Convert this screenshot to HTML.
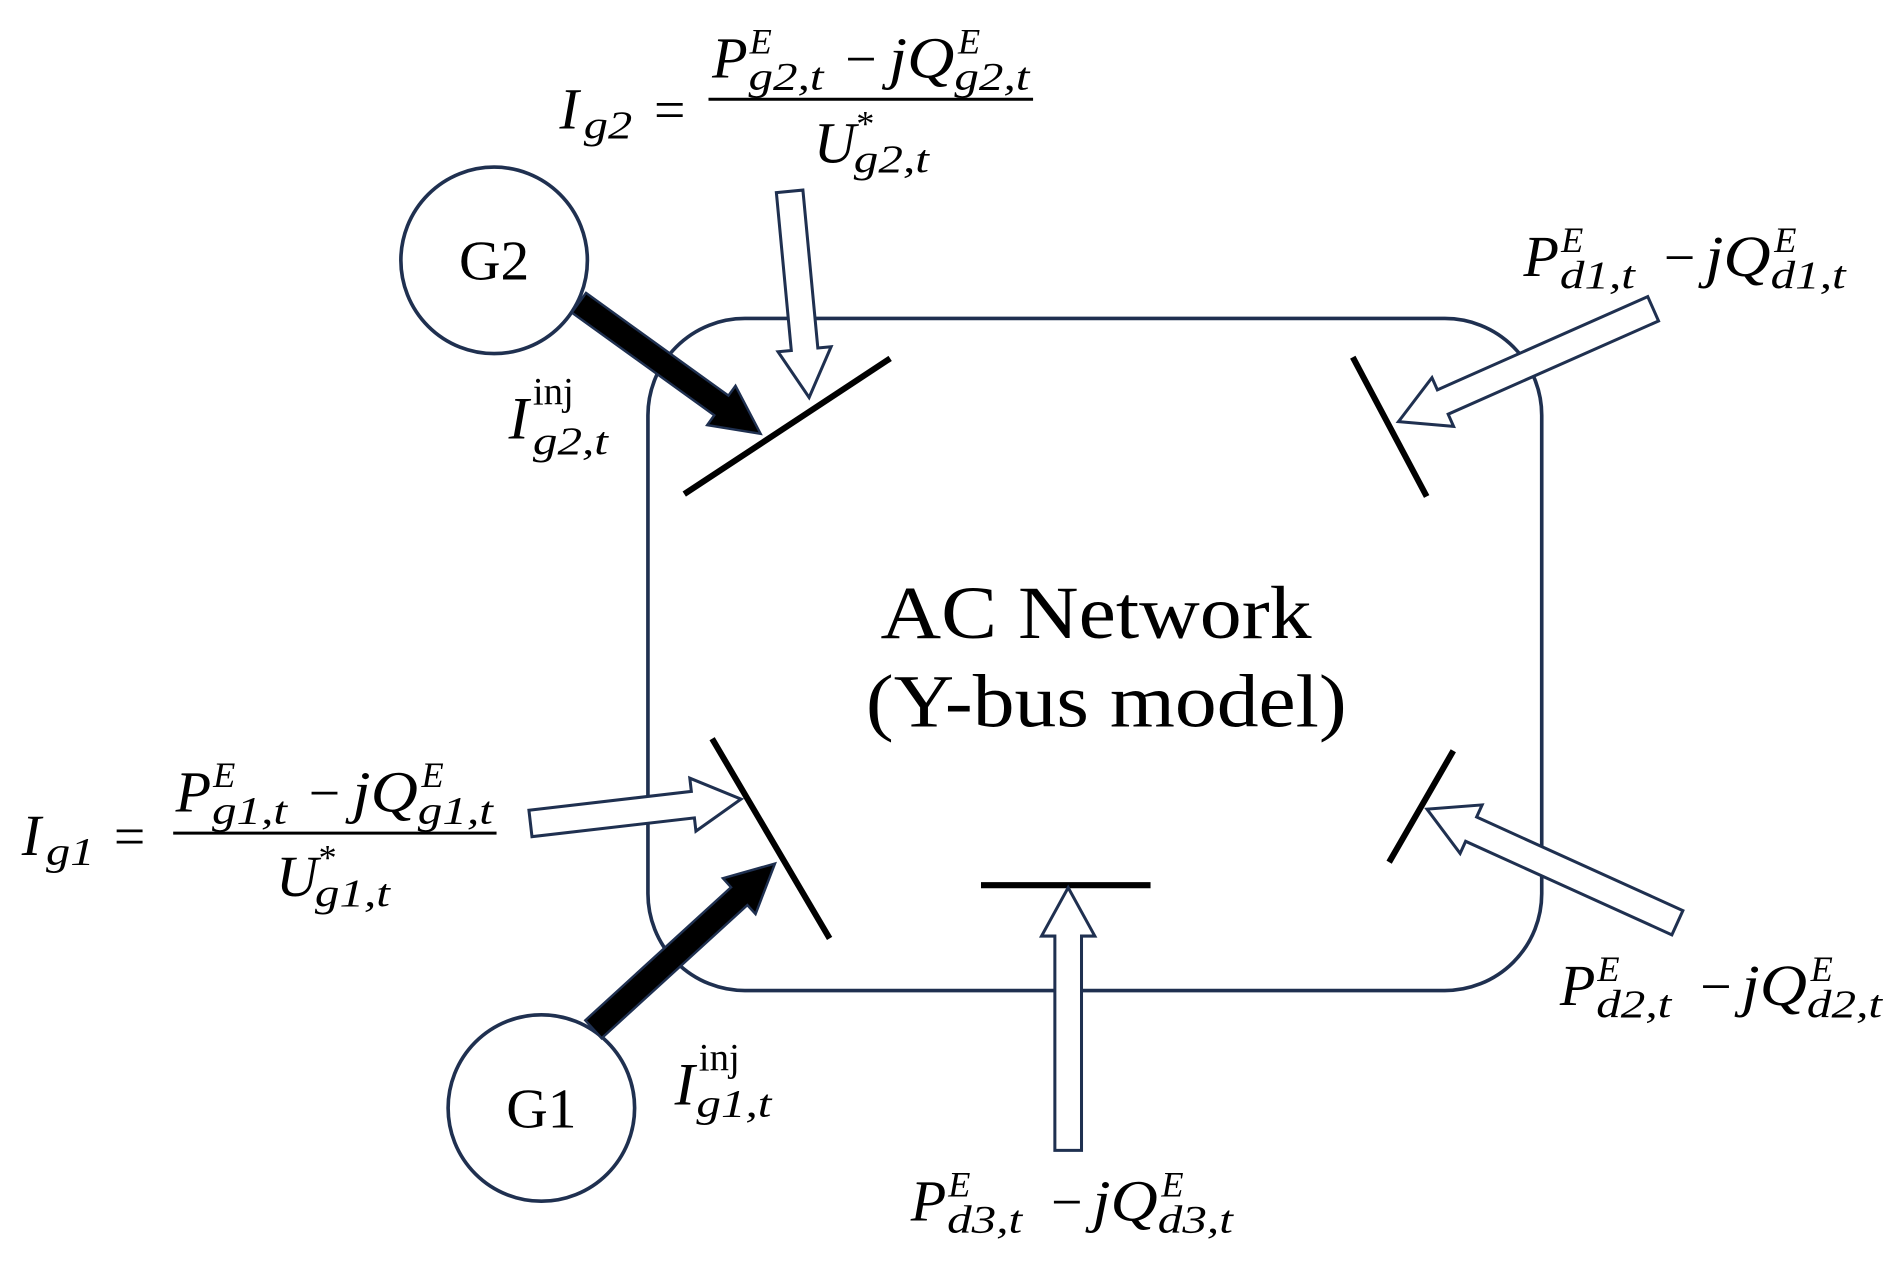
<!DOCTYPE html>
<html><head><meta charset="utf-8"><style>
html,body{margin:0;padding:0;background:#fff;}
svg{display:block;}
text{font-family:"Liberation Serif",serif;}
.it{font-style:italic;}
</style></head><body>
<svg width="1899" height="1263" viewBox="0 0 1568 1043" preserveAspectRatio="none" xmlns="http://www.w3.org/2000/svg">
<rect x="535" y="263" width="738" height="555" rx="80" ry="80" fill="none" stroke="#1f3050" stroke-width="3"/>
<circle cx="408" cy="215" r="77" fill="#fff" stroke="#1f3050" stroke-width="3"/>
<circle cx="447" cy="915" r="77" fill="#fff" stroke="#1f3050" stroke-width="3"/>
<text x="408" y="231" font-size="46" text-anchor="middle" textLength="58" lengthAdjust="spacingAndGlyphs">G2</text>
<text x="447" y="931" font-size="46" text-anchor="middle" textLength="58" lengthAdjust="spacingAndGlyphs">G1</text>
<g stroke="#000" stroke-width="5">
<line x1="565" y1="408" x2="735" y2="296"/>
<line x1="1117" y1="295" x2="1178" y2="410"/>
<line x1="588" y1="610" x2="685" y2="775"/>
<line x1="1200" y1="620" x2="1147" y2="712"/>
<line x1="810" y1="731" x2="950" y2="731"/>
</g>
<g fill="#000" stroke="#1f3050" stroke-width="2">
<polygon transform="translate(478,250) rotate(35.8)" points="0,-10 145,-10 145,-20 185,0 145,20 145,10 0,10"/>
<polygon transform="translate(490,850) rotate(-42.4)" points="0,-10 163,-10 163,-20 203,0 163,20 163,10 0,10"/>
</g>
<g fill="#fff" stroke="#1f3050" stroke-width="2.5">
<polygon transform="translate(652,158) rotate(84.6)" points="0,-11 131,-11 131,-22 171,0 131,22 131,11 0,11"/>
<polygon transform="translate(1365,255) rotate(156.1)" points="0,-11 190,-11 190,-22 230,0 190,22 190,11 0,11"/>
<polygon transform="translate(438,680) rotate(-6.6)" points="0,-11 135,-11 135,-22 175,0 135,22 135,11 0,11"/>
<polygon transform="translate(1385,762) rotate(-155.6)" points="0,-11 187,-11 187,-22 227,0 187,22 187,11 0,11"/>
<polygon transform="translate(882,950) rotate(-90)" points="0,-11 177,-11 177,-22 217,0 177,22 177,11 0,11"/>
</g>
<text x="727" y="527" font-size="62" textLength="356" lengthAdjust="spacingAndGlyphs">AC Network</text>
<text x="715" y="600" font-size="62" textLength="397" lengthAdjust="spacingAndGlyphs">(Y-bus model)</text>
<!-- I inj labels -->
<text class="it" x="420" y="362" font-size="50">I</text>
<text x="440" y="334" font-size="32">inj</text>
<text class="it" x="440" y="375" font-size="32" textLength="62" lengthAdjust="spacingAndGlyphs">g2,t</text>
<text class="it" x="557" y="912" font-size="50">I</text>
<text x="577" y="884" font-size="32">inj</text>
<text class="it" x="575" y="922" font-size="32" textLength="62" lengthAdjust="spacingAndGlyphs">g1,t</text>
<!-- d labels -->
<g transform="translate(1258,228)">
<text class="it" x="0" y="0" font-size="48">P</text>
<text class="it" x="31" y="-20" font-size="30">E</text>
<text class="it" x="30" y="10" font-size="32" textLength="62" lengthAdjust="spacingAndGlyphs">d1,t</text>
<text x="116" y="0" font-size="46">−</text>
<text class="it" x="150" y="0" font-size="48" textLength="54" lengthAdjust="spacingAndGlyphs">jQ</text>
<text class="it" x="207" y="-20" font-size="30">E</text>
<text class="it" x="204" y="10" font-size="32" textLength="62" lengthAdjust="spacingAndGlyphs">d1,t</text>
</g>
<g transform="translate(1288,830)">
<text class="it" x="0" y="0" font-size="48">P</text>
<text class="it" x="31" y="-20" font-size="30">E</text>
<text class="it" x="30" y="10" font-size="32" textLength="62" lengthAdjust="spacingAndGlyphs">d2,t</text>
<text x="116" y="0" font-size="46">−</text>
<text class="it" x="150" y="0" font-size="48" textLength="54" lengthAdjust="spacingAndGlyphs">jQ</text>
<text class="it" x="207" y="-20" font-size="30">E</text>
<text class="it" x="204" y="10" font-size="32" textLength="62" lengthAdjust="spacingAndGlyphs">d2,t</text>
</g>
<g transform="translate(752,1008)">
<text class="it" x="0" y="0" font-size="48">P</text>
<text class="it" x="31" y="-20" font-size="30">E</text>
<text class="it" x="30" y="10" font-size="32" textLength="62" lengthAdjust="spacingAndGlyphs">d3,t</text>
<text x="116" y="0" font-size="46">−</text>
<text class="it" x="150" y="0" font-size="48" textLength="54" lengthAdjust="spacingAndGlyphs">jQ</text>
<text class="it" x="207" y="-20" font-size="30">E</text>
<text class="it" x="204" y="10" font-size="32" textLength="62" lengthAdjust="spacingAndGlyphs">d3,t</text>
</g>
<!-- Ig2 formula -->
<text class="it" x="462" y="106" font-size="48">I</text>
<text class="it" x="482" y="114" font-size="32" textLength="40" lengthAdjust="spacingAndGlyphs">g2</text>
<text x="540" y="106" font-size="46">=</text>
<line x1="585" y1="82" x2="853" y2="82" stroke="#000" stroke-width="2.5"/>
<g transform="translate(588,64)">
<text class="it" x="0" y="0" font-size="48">P</text>
<text class="it" x="31" y="-20" font-size="30">E</text>
<text class="it" x="30" y="10" font-size="32" textLength="62" lengthAdjust="spacingAndGlyphs">g2,t</text>
<text x="110" y="0" font-size="46">−</text>
<text class="it" x="146" y="0" font-size="48" textLength="54" lengthAdjust="spacingAndGlyphs">jQ</text>
<text class="it" x="203" y="-20" font-size="30">E</text>
<text class="it" x="200" y="10" font-size="32" textLength="62" lengthAdjust="spacingAndGlyphs">g2,t</text>
</g>
<text class="it" x="672" y="134" font-size="48">U</text>
<text x="707" y="112" font-size="30">*</text>
<text class="it" x="705" y="142" font-size="32" textLength="62" lengthAdjust="spacingAndGlyphs">g2,t</text>
<!-- Ig1 formula -->
<text class="it" x="18" y="706" font-size="48">I</text>
<text class="it" x="38" y="714" font-size="32" textLength="40" lengthAdjust="spacingAndGlyphs">g1</text>
<text x="94" y="706" font-size="46">=</text>
<line x1="143" y1="688" x2="410" y2="688" stroke="#000" stroke-width="2.5"/>
<g transform="translate(145,670)">
<text class="it" x="0" y="0" font-size="48">P</text>
<text class="it" x="31" y="-20" font-size="30">E</text>
<text class="it" x="30" y="10" font-size="32" textLength="62" lengthAdjust="spacingAndGlyphs">g1,t</text>
<text x="110" y="0" font-size="46">−</text>
<text class="it" x="146" y="0" font-size="48" textLength="54" lengthAdjust="spacingAndGlyphs">jQ</text>
<text class="it" x="203" y="-20" font-size="30">E</text>
<text class="it" x="200" y="10" font-size="32" textLength="62" lengthAdjust="spacingAndGlyphs">g1,t</text>
</g>
<text class="it" x="228" y="740" font-size="48">U</text>
<text x="263" y="718" font-size="30">*</text>
<text class="it" x="260" y="748" font-size="32" textLength="62" lengthAdjust="spacingAndGlyphs">g1,t</text>
</svg>
</body></html>
